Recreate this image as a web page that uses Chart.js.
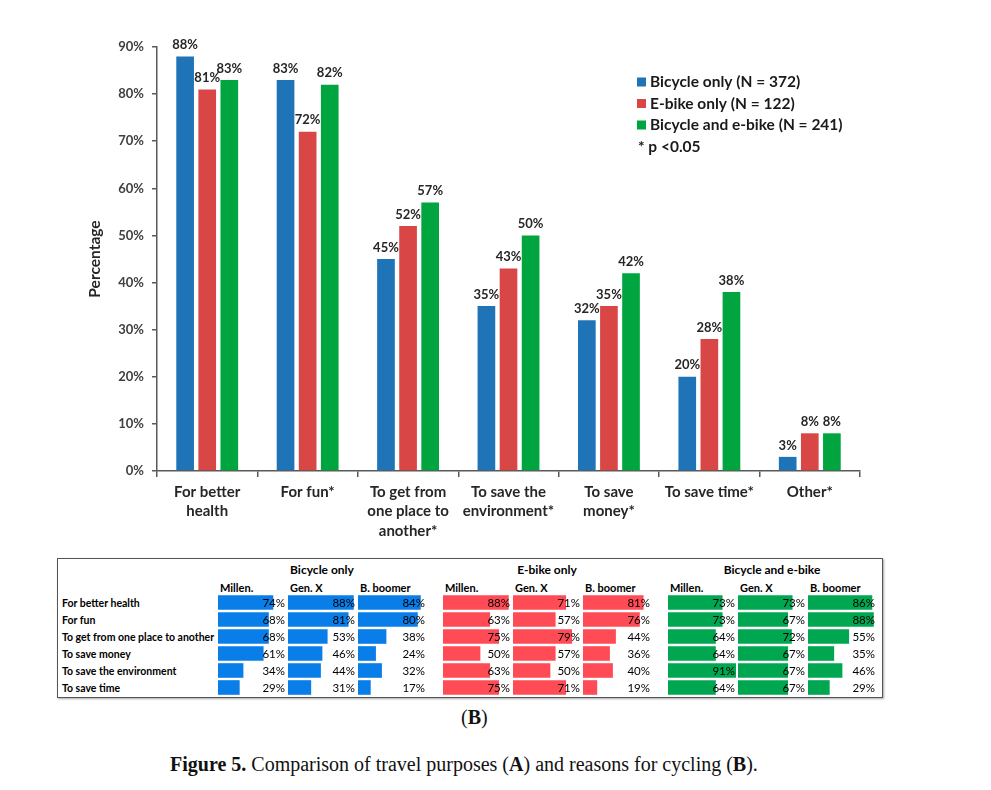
<!DOCTYPE html>
<html>
<head>
<meta charset="utf-8">
<script src="https://cdn.jsdelivr.net/npm/chart.js@4.4.1/dist/chart.umd.min.js"></script>
<style>
  body { margin: 0; background: #fff; width: 991px; height: 790px; position: relative; overflow: hidden; font-family: Lato, "Open Sans", sans-serif; }
  canvas { position: absolute; }
  .txt { position: absolute; white-space: nowrap; color: #000; line-height: 1; }
  #tableBox { position: absolute; left: 57px; top: 558px; width: 824px; height: 138px; border: 1.5px solid #555; box-shadow: 1px 1px 2px rgba(0,0,0,0.35); }
  .cap { position: absolute; font-family: "Liberation Serif", "DejaVu Serif", serif; font-size: 20px; color: #111; white-space: nowrap; }
</style>
</head>
<body>
<canvas id="mainChart" width="991" height="550" style="left:0;top:0"></canvas>
<div id="tableBox"></div>
<div id="tableLayer"></div>
<div class="cap" style="left:461px;top:706px">(<b>B</b>)</div>
<div class="cap" style="left:170px;top:753px"><b>Figure 5.</b> Comparison of travel purposes (<b>A</b>) and reasons for cycling (<b>B</b>).</div>

<script>
// (A) travel purposes
const categories = [['For better', 'health'], ['For fun*'], ['To get from', 'one place to', 'another*'], ['To save the', 'environment*'], ['To save', 'money*'], ['To save time*'], ['Other*']];
const bicycleOnly = [88, 83, 45, 35, 32, 20, 3];
const ebikeOnly = [81, 72, 52, 43, 35, 28, 8];
const bicycleAndEbike = [83, 82, 57, 50, 42, 38, 8];
const seriesNames = ['Bicycle only (N = 372)', 'E-bike only (N = 122)', 'Bicycle and e-bike (N = 241)'];
const noteText = '* p <0.05';

// (B) reasons for cycling, by generation
const rowLabels = ['For better health', 'For fun', 'To get from one place to another', 'To save money', 'To save the environment', 'To save time'];
const groupNames = ['Bicycle only', 'E-bike only', 'Bicycle and e-bike'];
const generations = ['Millen.', 'Gen. X', 'B. boomer'];
const bicycleMillen = [74, 68, 68, 61, 34, 29];
const bicycleGenX = [88, 81, 53, 46, 44, 31];
const bicycleBoomer = [84, 80, 38, 24, 32, 17];
const ebikeMillen = [88, 63, 75, 50, 63, 75];
const ebikeGenX = [71, 57, 79, 57, 50, 71];
const ebikeBoomer = [81, 76, 44, 36, 40, 19];
const bothMillen = [73, 73, 64, 64, 91, 64];
const bothGenX = [73, 67, 72, 67, 67, 67];
const bothBoomer = [86, 88, 55, 35, 46, 29];

const mainColors = ['#1f73b7', '#d94646', '#00a53f'];
const tableColors = ['#0a7ee8', '#ff4b56', '#00a650'];
const axisColor = '#595959';

const barLabels = {
  id: 'barLabels',
  afterDatasetsDraw(chart) {
    const ctx = chart.ctx;
    ctx.save();
    ctx.font = 'bold 13px Lato';
    ctx.fillStyle = '#262626';
    ctx.textAlign = 'center';
    ctx.textBaseline = 'bottom';
    chart.data.datasets.forEach((ds, i) => {
      chart.getDatasetMeta(i).data.forEach((bar, j) => {
        ctx.fillText(ds.data[j] + '%', bar.x, bar.y - 5);
      });
    });
    ctx.restore();
  }
};

const insideLegend = {
  id: 'insideLegend',
  afterDraw(chart) {
    const ctx = chart.ctx;
    const x = 637, y0 = 82, step = 21.5;
    ctx.save();
    ctx.font = 'bold 15.5px Lato';
    ctx.textBaseline = 'middle';
    chart.data.datasets.forEach((ds, i) => {
      const y = y0 + i * step;
      ctx.fillStyle = ds.backgroundColor;
      ctx.fillRect(x, y - 4.5, 9, 9);
      ctx.fillStyle = '#1a1a1a';
      ctx.fillText(ds.label, x + 13, y);
    });
    ctx.fillText(noteText, x + 1, y0 + 3 * step);
    ctx.restore();
  }
};

new Chart(document.getElementById('mainChart'), {
  type: 'bar',
  data: {
    labels: categories,
    datasets: [
      { label: seriesNames[0], data: bicycleOnly, backgroundColor: mainColors[0] },
      { label: seriesNames[1], data: ebikeOnly, backgroundColor: mainColors[1] },
      { label: seriesNames[2], data: bicycleAndEbike, backgroundColor: mainColors[2] }
    ]
  },
  options: {
    responsive: false,
    animation: false,
    devicePixelRatio: 1,
    layout: { padding: { left: 82, top: 47, right: 131, bottom: 0 } },
    datasets: { bar: { categoryPercentage: 0.66, barPercentage: 0.8 } },
    plugins: { legend: { display: false }, tooltip: { enabled: false } },
    scales: {
      x: {
        grid: { display: true, drawOnChartArea: false, tickLength: 6, color: axisColor, lineWidth: 1.5, offset: true },
        border: { color: axisColor, width: 1.5 },
        ticks: { font: { family: 'Lato', weight: 'bold', size: 15, lineHeight: 1.3 }, color: '#262626', padding: 5, maxRotation: 0, autoSkip: false },
        afterFit(scale) { scale.height = 79; }
      },
      y: {
        min: 0,
        max: 90,
        grid: { display: true, drawOnChartArea: false, tickLength: 5, color: axisColor, lineWidth: 1.5 },
        border: { color: axisColor, width: 1.5 },
        ticks: { stepSize: 10, padding: 8, callback: v => v + '%', font: { family: 'Lato', weight: 'bold', size: 13 }, color: '#404040' },
        title: { display: true, text: 'Percentage', font: { family: 'Lato', weight: 'bold', size: 15.5 }, color: '#262626' },
        afterFit(scale) { scale.width = 75; }
      }
    }
  },
  plugins: [barLabels, insideLegend]
});

// table with data bars
const tableColumns = [
  [bicycleMillen, bicycleGenX, bicycleBoomer],
  [ebikeMillen, ebikeGenX, ebikeBoomer],
  [bothMillen, bothGenX, bothBoomer]
];
const layer = document.getElementById('tableLayer');
const tableTop = 594, rowH = 17, colW = 68;

function addText(text, left, top, css) {
  const d = document.createElement('div');
  d.className = 'txt';
  d.textContent = text;
  d.style.left = left + 'px';
  d.style.top = top + 'px';
  d.style.cssText += css || '';
  layer.appendChild(d);
  return d;
}

rowLabels.forEach((lab, r) => {
  addText(lab, 62, tableTop + r * rowH + 3, 'font:bold 10.5px Lato;');
});

const valueText = {
  id: 'valueText',
  afterDatasetsDraw(chart) {
    const ctx = chart.ctx;
    ctx.save();
    ctx.font = '11.5px Lato';
    ctx.fillStyle = '#000';
    ctx.textAlign = 'right';
    ctx.textBaseline = 'middle';
    const ds = chart.data.datasets[0];
    chart.getDatasetMeta(0).data.forEach((bar, j) => {
      ctx.fillText(ds.data[j] + '%', chart.width - 1, bar.y + 0.5);
    });
    ctx.restore();
  }
};

tableColumns.forEach((group, g) => {
  const groupLeft = 218 + g * 225;
  addText(groupNames[g], groupLeft, 562, 'font:bold 12px Lato;width:' + (3 * 70 - 2) + 'px;text-align:center;');
  group.forEach((values, c) => {
    const left = groupLeft + c * 70;
    addText(generations[c], left + 2, 581, 'font:bold 11px Lato;');
    const cv = document.createElement('canvas');
    cv.width = colW;
    cv.height = rowLabels.length * rowH;
    cv.style.left = left + 'px';
    cv.style.top = tableTop + 'px';
    layer.appendChild(cv);
    new Chart(cv, {
      type: 'bar',
      data: { labels: rowLabels, datasets: [{ data: values, backgroundColor: tableColors[g] }] },
      options: {
        indexAxis: 'y',
        responsive: false,
        animation: false,
        devicePixelRatio: 1,
        layout: { padding: 0 },
        datasets: { bar: { categoryPercentage: 1, barPercentage: 0.86 } },
        plugins: { legend: { display: false }, tooltip: { enabled: false } },
        scales: {
          x: { display: false, min: 0, max: 91 },
          y: { display: false }
        }
      },
      plugins: [valueText]
    });
  });
});
</script>
</body>
</html>
